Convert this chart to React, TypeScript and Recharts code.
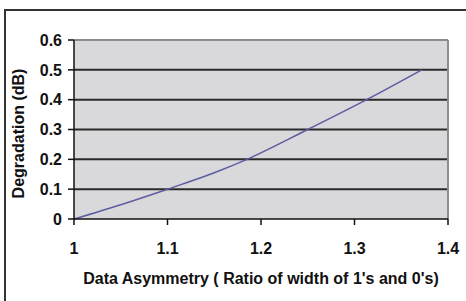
import React from "react";
import { LineChart, Line, XAxis, YAxis, CartesianGrid, ReferenceLine, Label } from "recharts";

const asymmetry = [1.0, 1.05, 1.1, 1.15, 1.185, 1.25, 1.313, 1.372];
const degradation = [0.0, 0.048, 0.1, 0.155, 0.2, 0.3, 0.4, 0.5];
const xTicks = [1, 1.1, 1.2, 1.3, 1.4];
const yTicks = [0, 0.1, 0.2, 0.3, 0.4, 0.5, 0.6];
const gridValues = [0.1, 0.2, 0.3, 0.4, 0.5];

const data = asymmetry.map((x, i) => ({ x, y: degradation[i] }));

const font = { fontFamily: "Liberation Sans, Arial, sans-serif", fontSize: 16, fontWeight: 700, fill: "#111" };

export default function App() {
  return (
    <div style={{ position: "absolute", left: 0, top: 0, width: 466, height: 301, background: "#fff" }}>
      <div style={{ position: "absolute", left: 4, top: 9, width: 462, height: 292, borderTop: "2px solid #333", borderLeft: "2px solid #333", boxSizing: "border-box" }} />
      <div style={{ position: "absolute", left: 0, top: 0 }}>
        <LineChart width={466} height={301} data={data} margin={{ top: 40, right: 18, bottom: 0, left: 0 }}>
          <CartesianGrid horizontal={false} vertical={false} fill="#d9d9db" />
          {gridValues.map((v) => (
            <ReferenceLine key={v} y={v} stroke="#2a2a2a" strokeWidth={2} ifOverflow="visible" />
          ))}
          <ReferenceLine y={0.6} stroke="#8c8c8c" strokeWidth={2} />
          <ReferenceLine x={1.4} stroke="#8c8c8c" strokeWidth={2} />
          <XAxis
            dataKey="x"
            type="number"
            domain={[1, 1.4]}
            ticks={xTicks}
            tickFormatter={(v: number) => String(Math.round(v * 10) / 10)}
            height={82}
            stroke="#111"
            strokeWidth={1.5}
            tickSize={6}
            tick={font}
            tickMargin={18}
            allowDataOverflow
          >
            <Label value="Data Asymmetry ( Ratio of width of 1's and 0's)" position="insideBottom" offset={17} style={font} />
          </XAxis>
          <YAxis
            type="number"
            domain={[0, 0.6]}
            ticks={yTicks}
            width={74}
            stroke="#111"
            strokeWidth={1.5}
            tickSize={6}
            tick={font}
            tickMargin={6}
          >
            <Label value="Degradation (dB)" angle={-90} position="insideLeft" offset={18} dy={4} style={{ ...font, textAnchor: "middle" }} />
          </YAxis>
          <Line type="monotone" dataKey="y" stroke="#5c5ca0" strokeWidth={1.5} dot={false} isAnimationActive={false} />
        </LineChart>
      </div>
    </div>
  );
}
